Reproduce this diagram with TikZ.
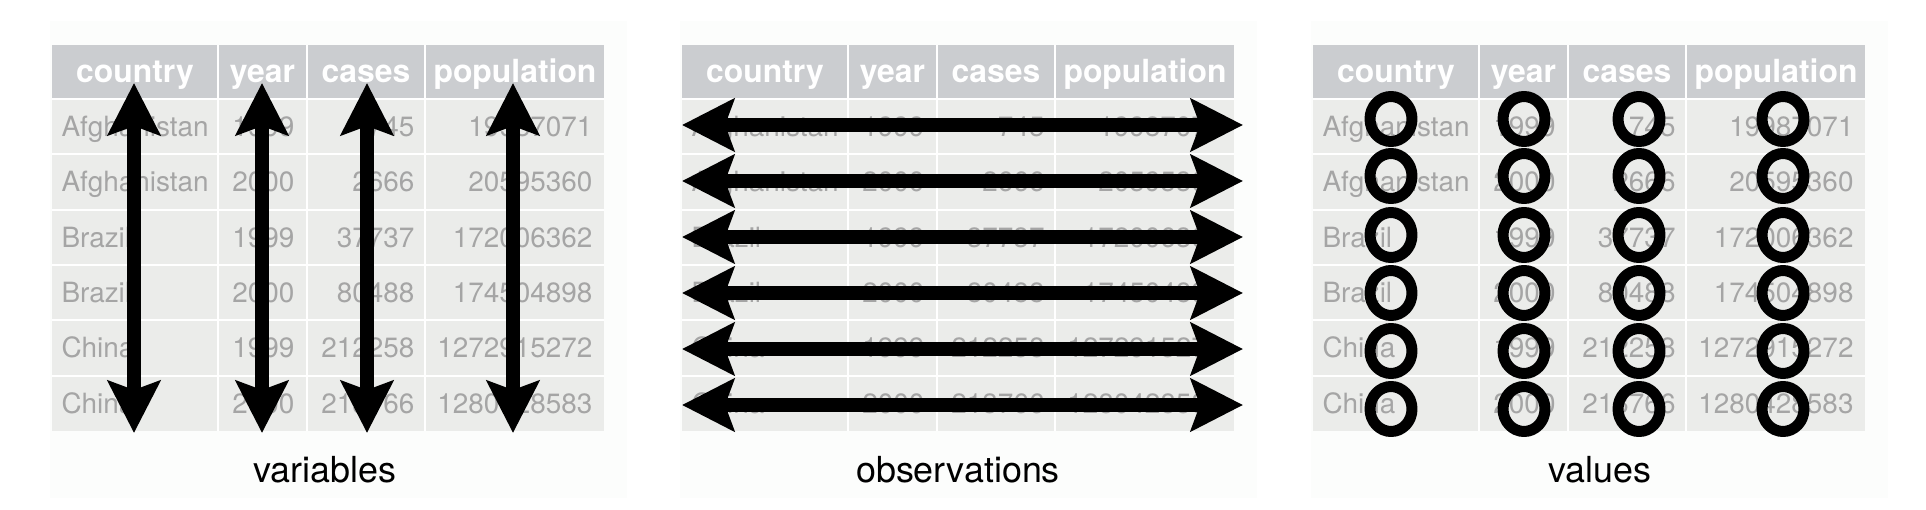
\documentclass[tikz,border=0pt]{standalone}
\usepackage{fontspec}
\setmainfont{TeX Gyre Heros}
\usetikzlibrary{arrows.meta,shapes.geometric}

\definecolor{panelcol}{RGB}{252,253,252}
\definecolor{headcol}{RGB}{203,205,208}
\definecolor{bodycol}{RGB}{235,236,234}
\definecolor{cellcol}{RGB}{165,165,165}

\tikzset{
  cellrule/.style={white,line width=2bp},
  headtext/.style={white,inner sep=0pt,anchor=base,font=\bfseries\fontsize{32}{32}\selectfont},
  celltext/.style={cellcol,inner sep=0pt,font=\fontsize{28}{28}\selectfont},
  caption/.style={black,inner sep=0pt,anchor=base,font=\fontsize{36}{36}\selectfont},
  bigarrow/.style={<->,line width=14.5bp},
  valring/.style={draw,ellipse,line width=11bp,minimum width=42bp,minimum height=45bp,inner sep=0pt},
}

% one table: #1 = left edge, #2 = name prefix
\newcommand{\tidytable}[2]{%
  \fill[panelcol] (#1-2,21) rectangle (#1+575,498);
  \fill[headcol] (#1,45) rectangle (#1+552,99);
  \fill[bodycol] (#1,99) rectangle (#1+552,431);
  \foreach \gx in {166,255,373}
    \draw[cellrule] (#1+\gx,45) -- (#1+\gx,431);
  \foreach \gy in {99,154.33,209.67,265,320.33,375.67}
    \draw[cellrule] (#1,\gy) -- (#1+552,\gy);
  \foreach \hx/\hn in {83/country,210.5/year,314/cases,463/population}
    \node[headtext] (#2-\hn) at (#1+\hx,83) {\hn};
  \foreach \cty/\yr/\cs/\pop [count=\r] in {Afghanistan/1999/745/19987071,
      Afghanistan/2000/2666/20595360, Brazil/1999/37737/172006362,
      Brazil/2000/80488/174504898, China/1999/212258/1272915272,
      China/2000/213766/1280428583} {
    \pgfmathsetmacro{\ry}{99+(\r-0.5)*55.33+10}
    \node[celltext,anchor=base west] (#2-r\r-country) at (#1+9,\ry) {\cty};
    \node[celltext,anchor=base east] (#2-r\r-year) at (#1+243,\ry) {\yr};
    \node[celltext,anchor=base east] (#2-r\r-cases) at (#1+363,\ry) {\cs};
    \node[celltext,anchor=base east] (#2-r\r-population) at (#1+541,\ry) {\pop};
  }
}

\begin{document}
\begin{tikzpicture}[x=1bp,y=-1bp,>={Stealth[length=52bp,width=52bp,inset=9bp]},line join=bevel]
\pgfsetlinewidth{1bp}
\pgfsetcolor{black}
\useasboundingbox (0,0) rectangle (1926,510);

% Node: tables
\tidytable{52}{var}
\tidytable{682}{obs}
\tidytable{1313}{val}

% Edge: variables
\foreach \vx/\vn in {134/country,262/year,367/cases,513/population} {
  \coordinate (var-\vn-top) at (\vx,83);
  \coordinate (var-\vn-bot) at (\vx,433);
  \draw[bigarrow] (var-\vn-bot) -- (var-\vn-top);
}

% Edge: observations
\foreach \oy [count=\r] in {125,181,237,293,349,405} {
  \coordinate (obs-\r-left) at (682,\oy);
  \coordinate (obs-\r-right) at (1243,\oy);
  \draw[bigarrow] (obs-\r-left) -- (obs-\r-right);
}

% Node: values
\foreach \cx [count=\c] in {1391,1524,1639,1783}
  \foreach \cy [count=\r] in {119,176,235,293,351,409}
    \node[valring] (ring-\r-\c) at (\cx,\cy) {};

% Node: captions
\node[caption] (varlabel) at (325,482) {variables};
\node[caption] (obslabel) at (958,482) {observations};
\node[caption] (vallabel) at (1600,482) {values};

\end{tikzpicture}
\end{document}
